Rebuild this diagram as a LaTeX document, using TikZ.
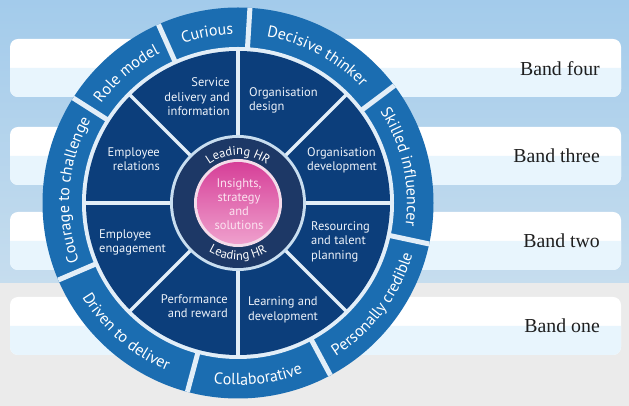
\documentclass[tikz,border=0pt]{standalone}
\usepackage{fontspec}
\setmainfont{Liberation Serif}
\setsansfont{PT Sans}
\usetikzlibrary{decorations.text}
\definecolor{bgtop}{HTML}{A3CBEB}
\definecolor{bgbot}{HTML}{C6DDEE}
\definecolor{bggray}{HTML}{EBEBEB}
\definecolor{bandlow}{HTML}{E8F5FD}
\definecolor{ringblue}{HTML}{1B6DB1}
\definecolor{sectblue}{HTML}{0C3E7B}
\definecolor{navyring}{HTML}{1D3866}
\definecolor{gapwhite}{HTML}{E2EEF8}
\definecolor{lightring}{HTML}{C9DEF0}
\definecolor{pinkborder}{HTML}{F4DCEA}
\definecolor{pinktop}{HTML}{D63F98}
\definecolor{pinkbot}{HTML}{EFA0CD}
\definecolor{pinktext}{HTML}{FBE3F0}
\definecolor{sectortextcol}{HTML}{EEF3FA}
\newcommand\ringfont{\fontsize{16}{16}\selectfont\sffamily}
\newcommand\leadfont{\fontsize{12.5}{12.5}\selectfont\sffamily}
\begin{document}
\begin{tikzpicture}[x=1pt,y=1pt,
  sectortext/.style={font=\fontsize{12.5}{14.5}\selectfont\sffamily, text=sectortextcol, inner sep=0pt},
  centertext/.style={font=\fontsize{12.5}{14}\selectfont\sffamily, text=pinktext, inner sep=0pt, align=center},
  bandlabel/.style={font=\fontsize{19.8}{20}\selectfont, text=black!88, anchor=east, inner sep=0pt},
  ringlabel/.style={decorate, decoration={text along path, text align=center, text color=white, text={|\ringfont|#1}}},
  leadlabel/.style={decorate, decoration={text along path, text align=center, text color=white, text={|\leadfont|#1}}},
  sectorline/.style={draw=gapwhite, line width=3.5pt},
  ringgap/.style={draw=gapwhite, line width=5pt}
]
\useasboundingbox (0,0) rectangle (629,406);
% background
\fill[bggray] (0,0) rectangle (629,406);
\shade[top color=bgtop, bottom color=bgbot] (0,123) rectangle (629,406);
% bands
\foreach \b/\t in {309/367, 221/279, 136/194, 51/109}{
  \pgfmathsetmacro\m{(\b+\t)/2}
  \fill[white, rounded corners=8pt] (10,\b) rectangle (621,\t);
  \fill[bandlow] (10,\m) -- (10,\b+8) arc[start angle=180, end angle=270, radius=8]
    -- (613,\b) arc[start angle=270, end angle=360, radius=8] -- (621,\m) -- cycle;
}
\node[bandlabel] (b4) at (600,337) {Band four};
\node[bandlabel] (b3) at (600,250) {Band three};
\node[bandlabel] (b2) at (600,165) {Band two};
\node[bandlabel] (b1) at (600,80) {Band one};
% wheel
\coordinate (c) at (238,203);
\fill[ringblue] (c) circle (195.5);
\fill[gapwhite] (c) circle (156);
\fill[sectblue] (c) circle (152);
\foreach \a in {0,45,...,315}
  \draw[sectorline] (c) ++(\a:64) -- ++(\a:89);
\foreach \a in {86.5,114,147.5,203.2,255,298.2,347.9,36.9}
  \draw[ringgap] (c) ++(\a:154) -- ++(\a:41.5);
\fill[lightring] (c) circle (68);
\fill[navyring] (c) circle (65);
\fill[pinkborder] (c) circle (44);
\shade[top color=pinktop, bottom color=pinkbot] (c) circle (41);
% centre texts
\node[centertext] (ins) at (239,202) {Insights,\\strategy\\and\\solutions};
\path[leadlabel={Leading HR}] ([shift={(c)}]150:48) arc[start angle=150, end angle=30, radius=48];
\path[leadlabel={Leading HR}] ([shift={(c)}]212:57) arc[start angle=212, end angle=328, radius=57];
% sector texts
\node[sectortext, align=right, anchor=east] (sdi) at (230,309) {Service\\delivery and\\information};
\node[sectortext, align=left, anchor=west] (od) at (249,305.5) {Organisation\\design};
\node[sectortext, align=left, anchor=west] (odev) at (307,245.5) {Organisation\\development};
\node[sectortext, align=left, anchor=west] (rtp) at (311,164.5) {Resourcing\\and talent\\planning};
\node[sectortext, align=left, anchor=west] (ld) at (248,96) {Learning and\\development};
\node[sectortext, align=right, anchor=east] (pr) at (228,100) {Performance\\and reward};
\node[sectortext, align=left, anchor=west] (ee) at (99,163.5) {Employee\\engagement};
\node[sectortext, align=right, anchor=east] (er) at (160,247) {Employee\\relations};
% ring labels
\path[ringlabel={Curious}] ([shift={(c)}]114:169) arc[start angle=114, end angle=86.5, radius=169];
\path[ringlabel={Role model}] ([shift={(c)}]147.5:169) arc[start angle=147.5, end angle=114, radius=169];
\path[ringlabel={Courage to challenge}] ([shift={(c)}]203.2:169) arc[start angle=203.2, end angle=147.5, radius=169];
\path[ringlabel={Decisive thinker}] ([shift={(c)}]86.5:169) arc[start angle=86.5, end angle=36.9, radius=169];
\path[ringlabel={Skilled influencer}] ([shift={(c)}]36.9:169) arc[start angle=36.9, end angle=-12.1, radius=169];
\path[ringlabel={Driven to deliver}] ([shift={(c)}]203.2:182) arc[start angle=203.2, end angle=255, radius=182];
\path[ringlabel={Collaborative}] ([shift={(c)}]255:182) arc[start angle=255, end angle=298.2, radius=182];
\path[ringlabel={Personally credible}] ([shift={(c)}]298.2:182) arc[start angle=298.2, end angle=347.9, radius=182];
\end{tikzpicture}
\end{document}
